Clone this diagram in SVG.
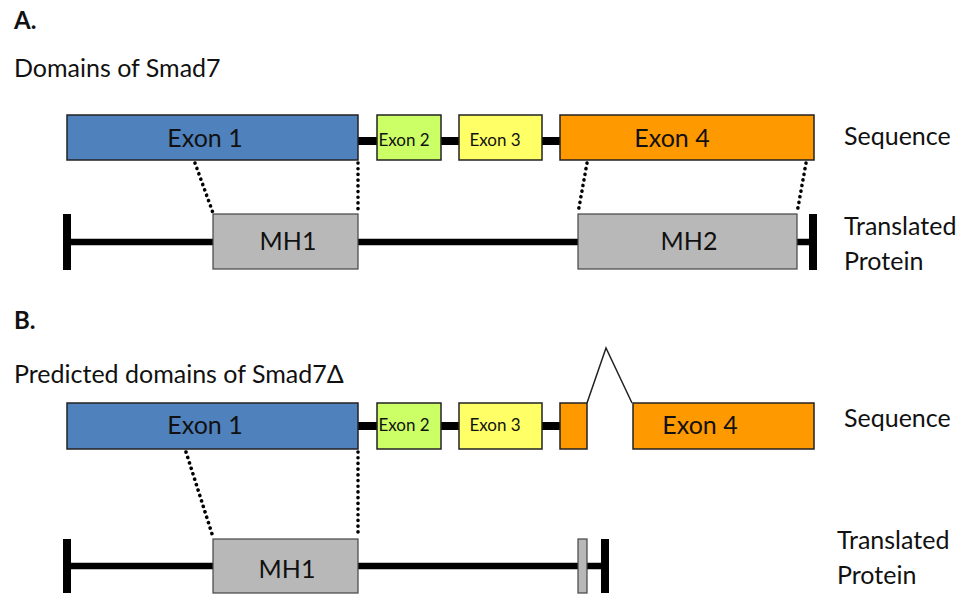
<svg xmlns="http://www.w3.org/2000/svg" width="976" height="594" viewBox="0 0 976 594">
<style>
text{font-family:Lato,"Open Sans","Liberation Sans",sans-serif;fill:#111}
.h{font-weight:bold;font-size:24px}
.t{font-size:25px}
.big{font-size:25px;text-anchor:middle}
.sm{font-size:17px;text-anchor:middle}
.box{stroke:#222;stroke-width:1.5}
.e1{fill:#4f81bd}
.e2{fill:#ccff66}
.e3{fill:#ffff66}
.e4{fill:#ff9900}
.mh{fill:#b8b8b8;stroke:#444;stroke-width:1.2}
.bb{stroke:#000;stroke-width:8}
.pl{stroke:#000;stroke-width:6.5}
.dot{stroke:#000;stroke-width:3.6;stroke-linecap:round;stroke-dasharray:0.1 5.6;fill:none}
.cap{fill:#000}
</style>
<rect width="976" height="594" fill="#fff"/>
<text class="h" x="14" y="29">A.</text>
<text class="t" x="14" y="77">Domains of Smad7</text>
<text class="h" x="14" y="329">B.</text>
<text class="t" x="14" y="383">Predicted domains of Smad7Δ</text>

<g id="connectors">
  <line class="bb" x1="358" y1="141" x2="377" y2="141"/>
  <line class="bb" x1="441" y1="141" x2="459" y2="141"/>
  <line class="bb" x1="542" y1="141" x2="560" y2="141"/>
  <line class="pl" x1="70" y1="242" x2="810" y2="242"/>
  <line class="dot" x1="195" y1="163" x2="213" y2="213"/>
  <line class="dot" x1="358" y1="163" x2="358" y2="213"/>
  <line class="dot" x1="587" y1="163" x2="578" y2="213"/>
  <line class="dot" x1="806" y1="163" x2="797" y2="213"/>
  <line class="bb" x1="358" y1="426" x2="377" y2="426"/>
  <line class="bb" x1="441" y1="426" x2="459" y2="426"/>
  <line class="bb" x1="542" y1="426" x2="560" y2="426"/>
  <polyline points="587,403 606,348 632,403" fill="none" stroke="#222" stroke-width="1.5"/>
  <line class="pl" x1="70" y1="566" x2="603" y2="566"/>
  <line class="dot" x1="186" y1="452" x2="213" y2="537"/>
  <line class="dot" x1="358" y1="452" x2="358" y2="537"/>
</g>

<g id="exon1-a"><rect class="box e1" x="67" y="115" width="291" height="45"/><text class="big" x="205" y="147">Exon 1</text></g>
<g id="exon2-a"><rect class="box e2" x="377" y="115" width="64" height="45"/><text class="sm" x="404" y="146">Exon 2</text></g>
<g id="exon3-a"><rect class="box e3" x="459" y="115" width="83" height="45"/><text class="sm" x="495" y="146">Exon 3</text></g>
<g id="exon4-a"><rect class="box e4" x="560" y="115" width="254" height="45"/><text class="big" x="672" y="147">Exon 4</text></g>
<text class="t" x="844" y="145">Sequence</text>

<g id="cap-a-left"><rect class="cap" x="63" y="214" width="8" height="56"/></g>
<g id="mh1-a"><rect class="mh" x="213" y="214" width="145" height="55"/><text class="big" x="288" y="250">MH1</text></g>
<g id="mh2-a"><rect class="mh" x="578" y="214" width="219" height="55"/><text class="big" x="689" y="250">MH2</text></g>
<g id="cap-a-right"><rect class="cap" x="809" y="214" width="8" height="56"/></g>
<text class="t" x="844" y="235">Translated</text>
<text class="t" x="844" y="270">Protein</text>

<g id="exon1-b"><rect class="box e1" x="67" y="403" width="291" height="46"/><text class="big" x="205" y="434">Exon 1</text></g>
<g id="exon2-b"><rect class="box e2" x="377" y="403" width="64" height="46"/><text class="sm" x="404" y="431">Exon 2</text></g>
<g id="exon3-b"><rect class="box e3" x="459" y="403" width="83" height="46"/><text class="sm" x="495" y="431">Exon 3</text></g>
<g id="exon4a-b"><rect class="box e4" x="560" y="403" width="27" height="46"/></g>
<g id="exon4b-b"><rect class="box e4" x="633" y="403" width="181" height="46"/><text class="big" x="700" y="434">Exon 4</text></g>
<text class="t" x="844" y="427">Sequence</text>

<g id="cap-b-left"><rect class="cap" x="63" y="539" width="8" height="54"/></g>
<g id="mh1-b"><rect class="mh" x="213" y="539" width="145" height="54"/><text class="big" x="287" y="578">MH1</text></g>
<g id="mh-b-stub"><rect class="mh" x="578" y="539" width="9" height="54"/></g>
<g id="cap-b-right"><rect class="cap" x="601" y="539" width="8" height="54"/></g>
<text class="t" x="837" y="549">Translated</text>
<text class="t" x="837" y="584">Protein</text>
</svg>
